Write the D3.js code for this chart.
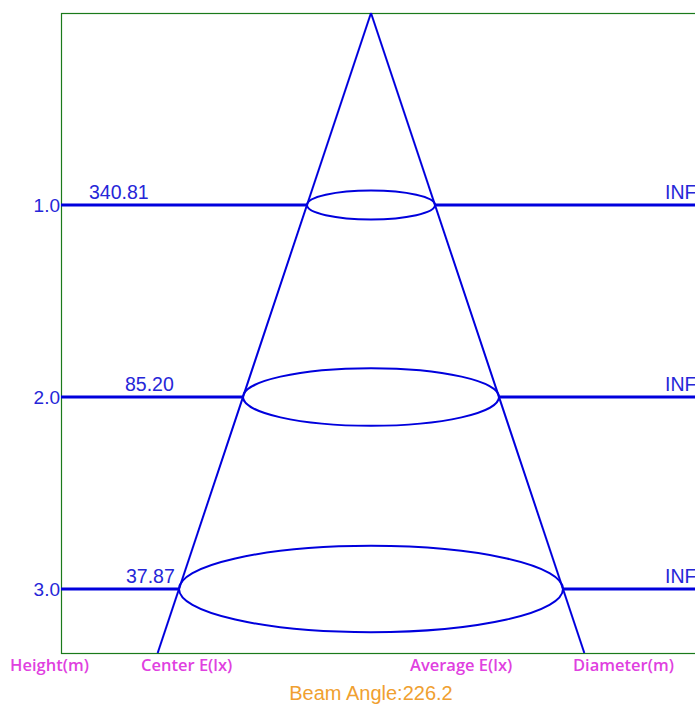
<!DOCTYPE html>
<html><head><meta charset="utf-8">
<script src="https://cdn.jsdelivr.net/npm/d3@7/dist/d3.min.js"></script>
<style>body{margin:0;background:#fff}svg{display:block}</style>
</head><body><svg id="c" width="695" height="704"></svg>
<script>
const heights = [1.0, 2.0, 3.0];
const heightLabels = ["1.0", "2.0", "3.0"];
const centerE = ["340.81", "85.20", "37.87"];
const diameterLabels = ["INF", "INF", "INF"];
const spotRadius = [1/3, 2/3, 1.0];   // drawn half-width of the light cone (m)
const footerLabels = ["Height(m)", "Center E(lx)", "Average E(lx)", "Diameter(m)"];
const beamAngle = "226.2";
const maxHeight = 10/3;

(function () {
const svg = d3.select("#c");
const mLeft = 61, mTop = 13, mBottom = 653, cx = 371;
const y = d3.scaleLinear().domain([0, maxHeight]).range([mTop, mBottom]);
const pxPerM = y(1) - y(0);
const x = d3.scaleLinear().domain([-1, 1]).range([cx - pxPerM, cx + pxPerM]);
const blue = "#0000dd";
const textBlue = "#2626d8";
const font = "Liberation Sans, Arial, sans-serif";

svg.append("rect").attr("x", mLeft + 0.5).attr("y", mTop + 0.5)
  .attr("width", 800).attr("height", mBottom - mTop).attr("fill", "none")
  .attr("stroke", "#1a7a1a").attr("stroke-width", 1.2);

const slope = spotRadius[0] / heights[0];
[-1, 1].forEach(s => {
  svg.append("line").attr("x1", x(0)).attr("y1", y(0))
    .attr("x2", x(s * slope * maxHeight)).attr("y2", y(maxHeight))
    .attr("stroke", blue).attr("stroke-width", 2);
});

const valueX = [89, 125, 126];
heights.forEach((h, i) => {
  const r = spotRadius[i];
  const rx = x(r) - x(0);
  svg.append("line").attr("x1", mLeft).attr("x2", x(-r)).attr("y1", y(h)).attr("y2", y(h))
    .attr("stroke", blue).attr("stroke-width", 3);
  svg.append("line").attr("x1", x(r)).attr("x2", 700).attr("y1", y(h)).attr("y2", y(h))
    .attr("stroke", blue).attr("stroke-width", 3);
  svg.append("ellipse").attr("cx", x(0)).attr("cy", y(h)).attr("rx", rx).attr("ry", rx * 0.225)
    .attr("fill", "none").attr("stroke", blue).attr("stroke-width", 2);
  svg.append("text").attr("x", 60).attr("y", y(h) + 7).attr("text-anchor", "end")
    .attr("font-family", font).attr("font-size", 19)
    .attr("fill", textBlue).text(heightLabels[i]);
  svg.append("text").attr("x", valueX[i]).attr("y", y(h) - 6)
    .attr("font-family", font).attr("font-size", 19.5)
    .attr("fill", textBlue).text(centerE[i]);
  svg.append("text").attr("x", 665).attr("y", y(h) - 6)
    .attr("font-family", font).attr("font-size", 19.5)
    .attr("fill", textBlue).text(diameterLabels[i]);
});

const footX = [10, 141, 410, 573];
footerLabels.forEach((t, i) => {
  svg.append("text").attr("x", footX[i]).attr("y", 671)
    .attr("font-family", "Open Sans, Noto Sans, sans-serif").attr("font-size", 16.5)
    .attr("font-weight", 600)
    .attr("fill", "#e040e0").text(t);
});
svg.append("text").attr("x", cx).attr("y", 700).attr("text-anchor", "middle")
  .attr("font-family", font).attr("font-size", 20)
  .attr("fill", "#f0a030").text("Beam Angle:" + beamAngle);
})();
</script></body></html>
